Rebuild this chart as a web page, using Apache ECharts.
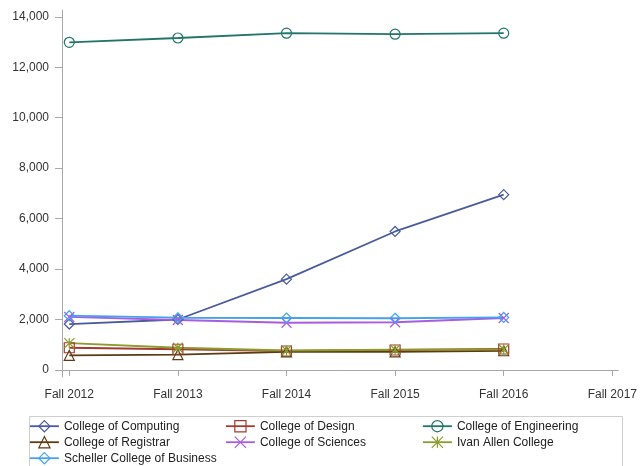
<!DOCTYPE html>
<html>
<head>
<meta charset="utf-8">
<script src="https://cdn.jsdelivr.net/npm/echarts@6/dist/echarts.min.js"></script>
<style>html,body{margin:0;padding:0;background:#fff}#c{width:640px;height:466px}</style>
</head>
<body>
<div id="c"></div>
<script>
const years = [2012, 2013, 2014, 2015, 2016];
const xTickYears = [2012, 2013, 2014, 2015, 2016, 2017];
const yTicks = [0, 2000, 4000, 6000, 8000, 10000, 12000, 14000];
const seriesNames = ['College of Computing', 'College of Design', 'College of Engineering',
  'College of Registrar', 'College of Sciences', 'Ivan Allen College', 'Scheller College of Business'];
const computing = [1820, 2000, 3600, 5490, 6950];
const design = [880, 820, 750, 790, 830];
const engineering = [12990, 13160, 13350, 13310, 13350];
const registrar = [580, 610, 720, 720, 760];
const sciences = [2100, 1980, 1870, 1890, 2060];
const ivanAllen = [1060, 880, 770, 800, 810];
const scheller = [2150, 2070, 2060, 2050, 2080];
const values = [computing, design, engineering, registrar, sciences, ivanAllen, scheller];

const colors = ['#4a5b9c', '#a03c30', '#237569', '#5c3b12', '#a95ce0', '#8c9a2e', '#45a3ec'];
const symbols = ['diamond', 'rect', 'circle', 'triangle',
  'path://M0,0L10,10M10,0L0,10',
  'path://M5,0L5,10M0,0L10,10M10,0L0,10',
  'diamond'];
const FONT = 'Arial, "Liberation Sans", sans-serif';

const chart = echarts.init(document.getElementById('c'), null, {renderer: 'canvas'});
const series = seriesNames.map((name, i) => ({
  name: name,
  type: 'line',
  data: years.map((y, j) => [y, values[i][j]]),
  symbol: symbols[i],
  symbolSize: 10,
  showAllSymbol: true,
  lineStyle: {color: colors[i], width: 1.8},
  itemStyle: {color: 'rgba(255,255,255,0)', borderColor: colors[i], borderWidth: 1.2},
  emphasis: {disabled: true},
  animation: false
}));

// legend slot: [column, row] for each series
const legendSlots = [[0, 0], [1, 0], [2, 0], [0, 1], [1, 1], [2, 1], [0, 2]];
const colLeft = [29, 225, 422];
const rowTop = [420, 436, 452];

const legends = seriesNames.map((name, i) => ({
  orient: 'vertical',
  left: colLeft[legendSlots[i][0]],
  top: rowTop[legendSlots[i][1]],
  itemWidth: 29,
  itemHeight: 14,
  padding: 0,
  textStyle: {fontFamily: FONT, fontSize: 12, color: '#222'},
  selectedMode: false,
  data: [{
    name: name,
    itemStyle: {color: 'rgba(255,255,255,0)', borderColor: colors[i], borderWidth: 1.2},
    lineStyle: {color: colors[i], width: 1.8}
  }]
}));

chart.setOption({
  animation: false,
  color: colors,
  grid: {left: 62, right: 17, top: 10, bottom: 89, containLabel: false},
  xAxis: {
    type: 'value',
    min: 2011.933,
    max: 2017.055,
    splitLine: {show: false},
    axisLine: {lineStyle: {color: '#a8a8a8', width: 1}},
    axisTick: {show: true, length: 6, lineStyle: {color: '#a8a8a8'}, customValues: xTickYears},
    axisLabel: {customValues: xTickYears, formatter: v => 'Fall ' + Math.round(v),
      fontFamily: FONT, fontSize: 12, color: '#333', margin: 12}
  },
  yAxis: {
    type: 'value',
    min: -280,
    max: 14270,
    splitLine: {show: false},
    axisLine: {show: true, lineStyle: {color: '#a8a8a8', width: 1}},
    axisTick: {show: true, length: 7, lineStyle: {color: '#a8a8a8'}, customValues: yTicks},
    axisLabel: {customValues: yTicks, formatter: v => Math.round(v).toLocaleString('en-US'),
      fontFamily: FONT, fontSize: 12, color: '#333', margin: 13}
  },
  legend: legends,
  graphic: [{
    type: 'rect',
    shape: {x: 29.5, y: 416.5, width: 593, height: 70},
    style: {fill: 'none', stroke: '#cfcfcf', lineWidth: 1},
    silent: true,
    z: -1
  }],
  series: series
});
</script>
</body>
</html>
